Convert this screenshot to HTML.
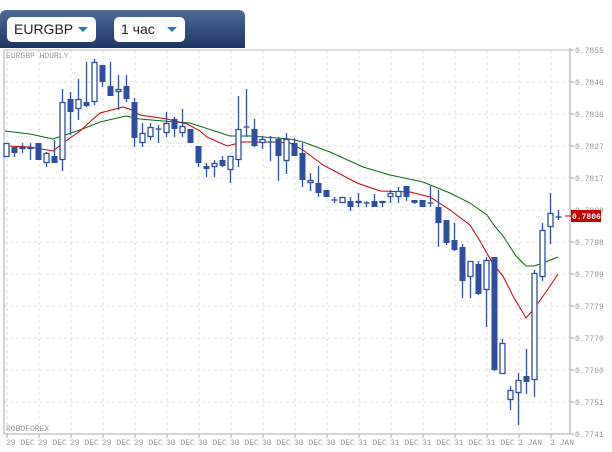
<!DOCTYPE html>
<html><head><meta charset="utf-8"><style>
body{margin:0;width:612px;height:452px;background:#fff;overflow:hidden;position:relative;font-family:"Liberation Sans","Noto Sans CJK SC",sans-serif}
.hdr{position:absolute;left:0;top:10px;width:245px;height:38px;background:linear-gradient(#4d6a96,#1c3665);border-radius:6px 6px 0 0}
.sel{position:absolute;top:7px;height:25px;background:#fff;border-radius:5px;font-size:14px;color:#222;line-height:25px;padding-left:7px;box-sizing:border-box}
.tri{position:absolute;right:8px;top:10px;width:0;height:0;border-left:5px solid transparent;border-right:5px solid transparent;border-top:5px solid #1d7bb0}
svg text{font-family:"Liberation Mono",monospace;font-size:8px;fill:#999}
</style></head><body>
<svg id="c" width="612" height="452" style="position:absolute;left:0;top:0"></svg>
<div class="hdr">
<div class="sel" style="left:7px;width:89px">EURGBP<div class="tri"></div></div>
<div class="sel" style="left:114px;width:71px">1 час<div class="tri"></div></div>
</div>
<script>
var s=document.getElementById('c'),h='';
for(var k=0;k<18;k++){var x=7+32*k;h+='<line x1="'+x+'" y1="50" x2="'+x+'" y2="434" stroke="#ddd" stroke-dasharray="3,3"/>';}
var pl=['0.7855','0.7846','0.7836','0.7827','0.7817','0.7808','0.7798','0.7789','0.7779','0.7770','0.7760','0.7751','0.7741'];
for(var k=0;k<13;k++){var y=50+32*k;h+='<line x1="4" y1="'+y+'" x2="570" y2="'+y+'" stroke="#ddd" stroke-dasharray="3,3"/><line x1="570" y1="'+y+'" x2="574" y2="'+y+'" stroke="#aaa"/><text x="575" y="'+(y+3)+'">'+pl[k]+'</text>';}
h+='<line x1="4" y1="50" x2="4" y2="434" stroke="#aaa"/><line x1="570" y1="48" x2="570" y2="434" stroke="#aaa"/><line x1="4" y1="434" x2="570" y2="434" stroke="#aaa"/><line x1="4" y1="50" x2="570" y2="50" stroke="#bbb"/>';
var dl=['29 DEC','29 DEC','29 DEC','29 DEC','29 DEC','30 DEC','30 DEC','30 DEC','30 DEC','30 DEC','30 DEC','31 DEC','31 DEC','31 DEC','31 DEC','31 DEC','2 JAN','2 JAN'];
for(var k=0;k<18;k++){var x=7+32*k;h+='<line x1="'+x+'" y1="434" x2="'+x+'" y2="438" stroke="#aaa"/><text x="'+(x-1)+'" y="445">'+dl[k]+'</text>';}
h+='<text x="6" y="58">EURGBP HOURLY</text><text x="6" y="431">ROBOFOREX</text>';
var g=[[5,131],[30,134],[53,139],[62,136],[80,130],[100,122],[126,116],[140,119],[175,122],[190,123],[230,136],[250,136],[290,139],[303,142],[330,152],[363,167],[390,175],[423,182],[450,193],[470,203],[487,215],[493,224],[503,236],[516,256],[526,266],[534,266],[543,263],[558,257]];
var r=[[7,146],[30,147],[53,151],[63,143],[80,131],[92,120],[100,113],[123,107],[132,110],[140,115],[167,119],[187,124],[200,131],[207,137],[227,146],[243,142],[273,142],[290,143],[303,150],[323,165],[357,183],[380,191],[410,192],[430,197],[450,210],[470,225],[480,241],[493,264],[503,276],[513,296],[526,318],[533,310],[546,292],[558,274]];
function pl2(a,c){return '<polyline fill="none" stroke="'+c+'" stroke-width="1" points="'+a.map(function(p){return p.join(',')}).join(' ')+'"/>';}
h+=pl2(g,'#0a6a0a')+pl2(r,'#c00000');
var d=[['H',143,157,143,157],['F',147,153,147,157],['H',147,149,143,153],['H',147,149,143,160],['F',143,160,143,160],['H',153,163,152,167],['F',156,163,140,163],['H',102,160,89,171],['F',99,112,92,135],['H',99,109,79,120],['F',102,106,62,107],['H',62,102,59,105],['F',65,82,65,87],['F',86,96,62,96],['H',89,92,75,110],['F',86,99,75,102],['F',102,138,98,147],['H',133,143,123,147],['H',127,137,123,140],['H',129,129,125,143],['H',123,133,112,137],['F',119,129,117,137],['H',126,133,109,137],['F',129,143,129,143],['F',146,163,146,167],['F',166,169,163,177],['H',163,167,160,177],['F',160,166,156,167],['H',156,170,156,183],['H',129,160,96,167],['H',127,127,89,137],['F',129,146,119,147],['H',139,143,136,149],['H',142,142,136,161],['F',139,156,137,181],['H',139,161,133,174],['F',143,156,138,156],['F',153,180,143,187],['H',180,183,173,191],['F',183,193,166,197],['F',190,197,190,197],['H',200,200,197,203],['H',197,203,197,203],['F',201,207,197,211],['H',201,203,193,207],['H',203,203,201,207],['F',201,207,194,207],['H',201,203,201,207],['H',193,197,190,203],['H',191,197,187,203],['F',186,197,186,201],['F',200,203,200,204],['F',200,207,200,207],['H',203,203,186,207],['F',207,223,190,247],['F',220,243,220,245],['F',240,250,223,251],['F',247,281,244,298],['H',261,277,261,298],['F',264,294,261,295],['H',260,290,257,327],['F',257,370,257,371],['H',343,374,339,374],['H',390,400,386,410],['H',380,393,373,425],['F',376,382,349,394],['H',273,380,270,397],['H',230,277,223,281],['H',213,227,193,244],['H',217,217,210,220]];
var col='#2e4f9e';
d.forEach(function(c,i){var x=6.5+8*i;h+='<line x1="'+x+'" y1="'+c[3]+'" x2="'+x+'" y2="'+c[4]+'" stroke="'+col+'" stroke-width="1.3"/>';
var bh=c[2]-c[1];if(bh<1){h+='<line x1="'+(x-3)+'" y1="'+c[1]+'" x2="'+(x+3)+'" y2="'+c[1]+'" stroke="'+col+'" stroke-width="1.3"/>';}
else if(c[0]=='F'){h+='<rect x="'+(x-3)+'" y="'+c[1]+'" width="6" height="'+bh+'" fill="'+col+'"/>';}
else{h+='<rect x="'+(x-2.5)+'" y="'+(c[1]+.5)+'" width="5" height="'+(bh-1)+'" fill="#fff" stroke="'+col+'" stroke-width="1.3"/>';}});
h+='<line x1="565" y1="216" x2="571" y2="216" stroke="#c00"/><rect x="571" y="210" width="30" height="12" fill="#c00000"/><text x="572" y="219" style="fill:#fff;font-weight:bold">0.7806</text>';
s.innerHTML=h;
</script>
</body></html>
